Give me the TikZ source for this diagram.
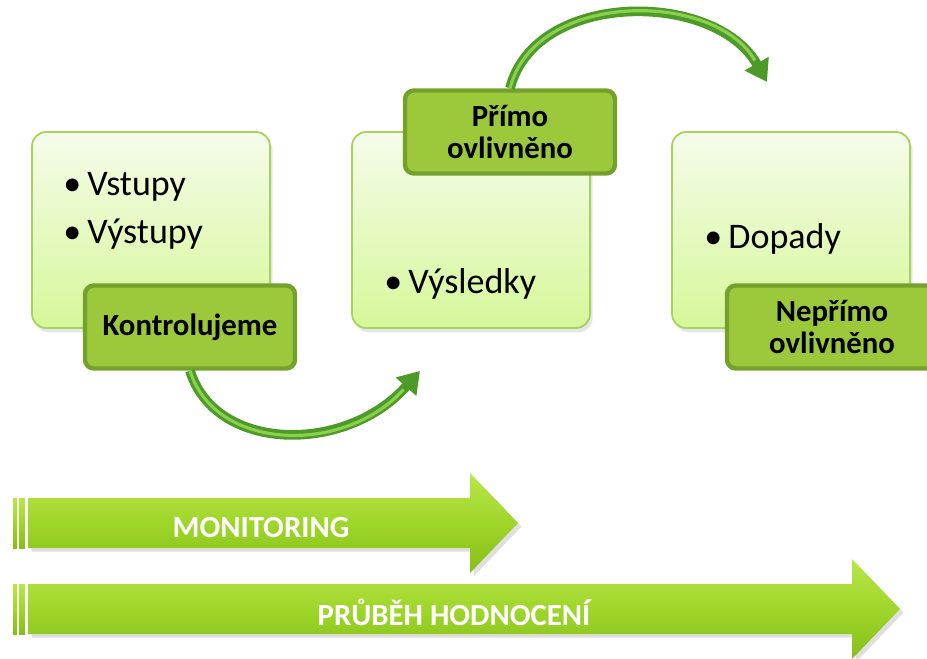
\documentclass[tikz,border=0pt]{standalone}
\usepackage{fontspec}
\setmainfont{Carlito}
\usetikzlibrary{positioning,arrows.meta,shadows}

\definecolor{boxtop}{HTML}{F5FCEA}
\definecolor{boxbot}{HTML}{D6F799}
\definecolor{boxline}{HTML}{A5D25A}
\definecolor{tagfill}{HTML}{9CC83B}
\definecolor{tagline}{HTML}{74A12C}
\definecolor{tubedark}{HTML}{4C9A27}
\definecolor{tubelight}{HTML}{8AD04E}
\definecolor{limetop}{HTML}{B9E64C}
\definecolor{limemid}{HTML}{9FD62A}
\definecolor{limebot}{HTML}{86BE1A}

\newcommand{\bul}{\textbullet\hspace{3.5pt}}

\tikzset{
  stagebox/.style={rectangle, rounded corners=8pt, draw=boxline, line width=1pt,
    top color=boxtop, bottom color=boxbot, minimum width=4.76cm, minimum height=3.92cm,
    drop shadow={opacity=0.2, shadow xshift=1.5pt, shadow yshift=-2.5pt}},
  tag/.style={rectangle, rounded corners=5pt, draw=tagline, line width=2.5pt, fill=tagfill,
    minimum width=4.2cm, minimum height=1.66cm, align=center,
    font=\bfseries\fontsize{17.5}{18.7}\selectfont},
  bullets/.style={anchor=base west, align=left, inner sep=0pt,
    font=\fontsize{20.5}{27}\selectfont},
  bendarrow/.style={draw=tubedark, line width=5.5pt, -{Triangle[length=12pt,width=15pt]},
    postaction={draw=tubelight, line width=1.8pt, shorten >=14pt, -}},
  bar/.style={top color=limetop, bottom color=limebot, middle color=limemid},
  barlabel/.style={anchor=base, text=white, font=\bfseries\fontsize{17.5}{20}\selectfont}
}

\begin{document}
\begin{tikzpicture}[x=0.02cm, y=-0.02cm]
\clip (0,0) rectangle (927,659);

% stages
\node[stagebox] (in1) at (151,230) {};
\node[stagebox] (in2) at (471,230) {};
\node[stagebox] (in3) at (791,230) {};

\node[bullets] (lst1) at (63,243) {\bul Vstupy\\ \bul Výstupy};
\node[bullets] (lst2) at (384,293) {\bul Výsledky};
\node[bullets] (lst3) at (704,248) {\bul Dopady};

% tags
\node[tag] (lab1) at (190,327) {Kontrolujeme};
\node[tag] (lab2) at (510,132) {Přímo\\ovlivněno};
\node[tag] (lab3) at (832,327) {Nepřímo\\ovlivněno};

% bent arrows
\coordinate (t1) at (420,371);
\coordinate (t2) at (767,82);
\draw[bendarrow] (lab1.south) .. controls (215,452) and (345,455) .. (t1);
\draw[bendarrow] (lab2.north) .. controls (535,-10) and (715,-10) .. (t2);

% process arrows
\path[bar, drop shadow={opacity=0.25, shadow xshift=2pt, shadow yshift=-2pt}]
  (28,498) -- (470,498) -- (470,473) -- (518,523) -- (470,573) -- (470,548) -- (28,548) -- cycle;
\path[bar] (13,498) rectangle (17,548);
\path[bar] (19,498) rectangle (25,548);
\node[barlabel] (mon) at (261,537) {MONITORING};

\path[bar, drop shadow={opacity=0.25, shadow xshift=2pt, shadow yshift=-2pt}]
  (28,584) -- (852,584) -- (852,559) -- (900,609) -- (852,659) -- (852,634) -- (28,634) -- cycle;
\path[bar] (13,584) rectangle (17,634);
\path[bar] (19,584) rectangle (25,634);
\node[barlabel] (eval) at (454,625) {PRŮBĚH HODNOCENÍ};

\end{tikzpicture}
\end{document}
